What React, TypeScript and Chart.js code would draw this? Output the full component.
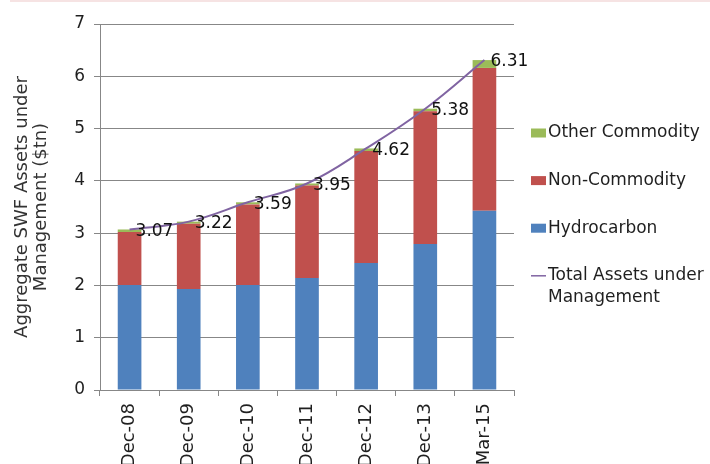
import React, { useEffect, useRef } from 'react';
import { Chart, registerables } from 'chart.js';

Chart.register(...registerables);

const categories = ['Dec-08', 'Dec-09', 'Dec-10', 'Dec-11', 'Dec-12', 'Dec-13', 'Mar-15'];
const hydrocarbon = [2.01, 1.93, 2.01, 2.14, 2.43, 2.79, 3.43];
const nonCommodity = [1.01, 1.25, 1.54, 1.77, 2.14, 2.54, 2.73];
const otherCommodity = [0.05, 0.04, 0.04, 0.04, 0.05, 0.05, 0.15];
const totalAssets = [3.07, 3.22, 3.59, 3.95, 4.62, 5.38, 6.31];
const yTickValues = [0, 1, 2, 3, 4, 5, 6, 7];
const yTitle = ['Aggregate SWF Assets under', 'Management ($tn)'];
const seriesLabels = ['Hydrocarbon', 'Non-Commodity', 'Other Commodity', 'Total Assets under Management'];
// dataset indices: 0 = total line, 1 = hydrocarbon, 2 = non-commodity, 3 = other commodity
const legendOrder = [3, 2, 1, 0];

const FONT = "'DejaVu Sans', sans-serif";
const TEXT = '#1f1f1f';
const GRID = '#878787';

const dataLabelPlugin = {
  id: 'totalLabels',
  afterDatasetsDraw(chart: any) {
    const idx = chart.data.datasets.findIndex((d: any) => d.type === 'line');
    if (idx < 0) return;
    const meta = chart.getDatasetMeta(idx);
    const ctx = chart.ctx;
    ctx.save();
    ctx.font = `17px ${FONT}`;
    ctx.fillStyle = '#111';
    ctx.textAlign = 'left';
    ctx.textBaseline = 'middle';
    meta.data.forEach((pt: any, i: number) => {
      const v = chart.data.datasets[idx].data[i];
      ctx.fillText(Number(v).toFixed(2), pt.x + 6, pt.y + 2);
    });
    ctx.restore();
  },
};

const sideLegendPlugin = {
  id: 'sideLegend',
  afterDraw(chart: any) {
    const { ctx, chartArea } = chart;
    const x0 = chartArea.right + 17;
    const tx = x0 + 17;
    const maxW = chart.width - tx - 1;
    ctx.save();
    ctx.font = `17px ${FONT}`;
    ctx.textBaseline = 'middle';
    ctx.textAlign = 'left';
    legendOrder.forEach((di, k) => {
      const ds = chart.data.datasets[di];
      const y = chartArea.top + 109 + k * 47.6;
      if (ds.type === 'line') {
        ctx.strokeStyle = ds.borderColor;
        ctx.lineWidth = 1.5;
        ctx.beginPath();
        ctx.moveTo(x0, y);
        ctx.lineTo(x0 + 15, y);
        ctx.stroke();
      } else {
        ctx.fillStyle = ds.backgroundColor;
        ctx.fillRect(x0, y - 4.5, 15, 9);
      }
      const words = String(ds.label).split(' ');
      const lines: string[] = [];
      let cur = '';
      words.forEach((w) => {
        const test = cur ? cur + ' ' + w : w;
        if (ctx.measureText(test).width > maxW && cur) {
          lines.push(cur);
          cur = w;
        } else cur = test;
      });
      if (cur) lines.push(cur);
      ctx.fillStyle = TEXT;
      lines.forEach((ln, j) => ctx.fillText(ln, tx, y + j * 21.6));
    });
    ctx.restore();
  },
};

export default function App() {
  const ref = useRef<HTMLCanvasElement>(null);
  useEffect(() => {
    if (!ref.current) return;
    const chart = new Chart(ref.current, {
      type: 'bar',
      data: {
        labels: categories,
        datasets: [
          {
            type: 'line',
            label: seriesLabels[3],
            data: totalAssets,
            borderColor: '#8064a2',
            borderWidth: 2,
            pointRadius: 0,
            tension: 0.4,
            fill: false,
            stack: 'total',
            order: 0,
          } as any,
          {
            type: 'bar',
            label: seriesLabels[0],
            data: hydrocarbon,
            backgroundColor: '#4f81bd',
            stack: 'bars',
            order: 1,
          },
          {
            type: 'bar',
            label: seriesLabels[1],
            data: nonCommodity,
            backgroundColor: '#c0504d',
            stack: 'bars',
            order: 1,
          },
          {
            type: 'bar',
            label: seriesLabels[2],
            data: otherCommodity,
            backgroundColor: '#9bbb59',
            stack: 'bars',
            order: 1,
          },
        ],
      },
      options: {
        responsive: false,
        animation: false,
        devicePixelRatio: 1,
        datasets: { bar: { barPercentage: 0.4, categoryPercentage: 1 } },
        layout: { padding: { top: 24, right: 196, bottom: 0, left: 0 } },
        plugins: { legend: { display: false }, tooltip: { enabled: false } },
        scales: {
          x: {
            stacked: true,
            offset: true,
            grid: {
              offset: true,
              drawOnChartArea: false,
              drawTicks: true,
              tickLength: 6,
              color: GRID,
            },
            border: { color: GRID },
            ticks: {
              autoSkip: false,
              minRotation: 90,
              maxRotation: 90,
              padding: 7,
              color: TEXT,
              font: { family: FONT, size: 18 },
            },
            afterFit: (s: any) => {
              s.height = 74;
            },
          },
          y: {
            stacked: true,
            min: 0,
            max: 7,
            afterBuildTicks: (s: any) => {
              s.ticks = yTickValues.map((v) => ({ value: v }));
            },
            grid: { color: GRID, tickLength: 6, drawTicks: true },
            border: { color: GRID },
            ticks: {
              padding: 9,
              color: TEXT,
              font: { family: FONT, size: 17 },
            },
            title: {
              display: true,
              text: yTitle,
              color: '#333',
              font: { family: FONT, size: 18, lineHeight: 1.1 },
              padding: { top: 12, bottom: 0 },
            },
            afterFit: (s: any) => {
              s.width = 100;
            },
          },
        },
      },
      plugins: [dataLabelPlugin, sideLegendPlugin],
    });
    return () => chart.destroy();
  }, []);

  return (
    <div style={{ position: 'fixed', left: 0, top: 0, width: 710, height: 464, overflow: 'hidden', background: '#fff' }}>
      <div style={{ position: 'absolute', left: 10, right: 0, top: 0, height: 2, background: '#f6e3e3' }} />
      <canvas ref={ref} width={710} height={464} style={{ display: 'block' }} />
    </div>
  );
}
